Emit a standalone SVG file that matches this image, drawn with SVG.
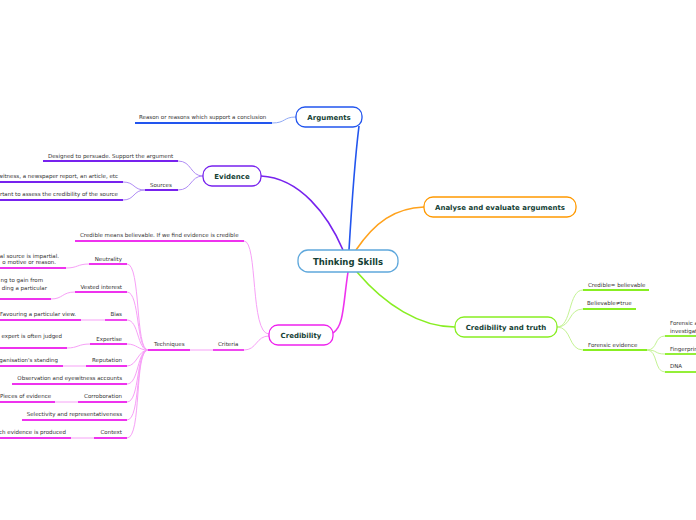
<svg xmlns="http://www.w3.org/2000/svg" width="696" height="520" viewBox="0 0 696 520">
<style>
.bg{fill:#ffffff}
.node{fill:#ffffff;stroke-width:1.3}
.title{font-family:"DejaVu Sans","Liberation Sans",sans-serif;font-weight:bold;fill:#153f35;text-anchor:middle}
.t7{font-size:7px}
.leaf{font-family:"DejaVu Sans","Liberation Sans",sans-serif;font-size:5.5px;fill:#333333}
.end{text-anchor:end}
.c{fill:none;stroke-width:1}
.m{fill:none;stroke-width:1.6}
.ul{fill:none;stroke-width:1.8}
.blue{stroke:#2255ee}.lblue{stroke:#8fa9f5}
.pur{stroke:#7722ee}.lpur{stroke:#b08cf5}
.mag{stroke:#ee33ee}.lmag{stroke:#f7a0f7}
.lime{stroke:#88ee22}.llime{stroke:#c4f394}
.org{stroke:#ffa21c}
</style>
<rect class="bg" x="0" y="0" width="696" height="520"/>
<g id="connectors">
<path class="m blue" d="M349,250 C352,200 356,150 359,126"/>
<path class="m pur" d="M261,176 C300,178 328,215 343,250"/>
<path class="m org" d="M356,250 C375,222 395,208 424,207"/>
<path class="m mag" d="M348,272 C343,305 344,326 333,333"/>
<path class="m lime" d="M357,272 C385,305 420,327 455,327"/>
<path class="c lblue" d="M272,123 C286,123 283,117 296,117"/>
<path class="c lpur" d="M178,161 C192,161 190,176 203,176"/>
<path class="c lpur" d="M178,190 C192,190 190,176 203,176"/>
<path class="c lpur" d="M123,182 C135,182 133,190 145,190"/>
<path class="c lpur" d="M123,200 C135,200 133,190 145,190"/>
<path class="c lmag" d="M244,241 C258,241 250,334 269,334"/>
<path class="c lmag" d="M244,350 C257,350 256,336 269,336"/>
<path class="c lmag" d="M190,350 L213,350"/>
<path class="c lmag" d="M127,264 C141,264 135,350 148,350"/>
<path class="c lmag" d="M127,292 C140,292 136,350 148,350"/>
<path class="c lmag" d="M127,320 C139,320 137,350 148,350"/>
<path class="c lmag" d="M127,344 C137,344 138,350 148,350"/>
<path class="c lmag" d="M127,366 C137,366 138,350 148,350"/>
<path class="c lmag" d="M127,384 C139,384 137,350 148,350"/>
<path class="c lmag" d="M127,402 C140,402 136,350 148,350"/>
<path class="c lmag" d="M127,420 C141,420 135,350 148,350"/>
<path class="c lmag" d="M127,438 C142,438 134,350 148,350"/>
<path class="c lmag" d="M66,268 C78,268 77,264 89,264"/>
<path class="c lmag" d="M51,299 C63,299 62,292 75,292"/>
<path class="c lmag" d="M81,320 L105,320"/>
<path class="c lmag" d="M67,348 C78,348 78,344 90,344"/>
<path class="c lmag" d="M63,366 L86,366"/>
<path class="c lmag" d="M55,402 L78,402"/>
<path class="c lmag" d="M71,438 L94,438"/>
<path class="c llime" d="M557,327 C572,327 568,290 583,290"/>
<path class="c llime" d="M557,327 C572,327 568,309 583,309"/>
<path class="c llime" d="M557,327 C572,327 568,350 583,350"/>
<path class="c llime" d="M647,350 C658,350 654,336 665,336"/>
<path class="c llime" d="M647,350 C658,350 654,354 665,354"/>
<path class="c llime" d="M647,350 C658,350 654,372 665,372"/>
</g>
<g id="underlines">
<path class="ul blue" d="M135,123 H272"/>
<path class="ul pur" d="M43,161 H178"/>
<path class="ul pur" d="M145,190 H178"/>
<path class="ul pur" d="M0,182 H123"/>
<path class="ul pur" d="M0,200 H123"/>
<path class="ul mag" d="M75,241 H244"/>
<path class="ul mag" d="M213,350 H244"/>
<path class="ul mag" d="M148,350 H190"/>
<path class="ul mag" d="M89,264 H127"/>
<path class="ul mag" d="M0,268 H66"/>
<path class="ul mag" d="M75,292 H127"/>
<path class="ul mag" d="M0,299 H51"/>
<path class="ul mag" d="M105,320 H127"/>
<path class="ul mag" d="M0,320 H81"/>
<path class="ul mag" d="M90,344 H127"/>
<path class="ul mag" d="M0,348 H67"/>
<path class="ul mag" d="M86,366 H127"/>
<path class="ul mag" d="M0,366 H63"/>
<path class="ul mag" d="M12,384 H127"/>
<path class="ul mag" d="M78,402 H127"/>
<path class="ul mag" d="M0,402 H55"/>
<path class="ul mag" d="M22,420 H127"/>
<path class="ul mag" d="M94,438 H127"/>
<path class="ul mag" d="M0,438 H71"/>
<path class="ul lime" d="M583,290 H649"/>
<path class="ul lime" d="M583,309 H636"/>
<path class="ul lime" d="M583,350 H647"/>
<path class="ul lime" d="M665,336 H696"/>
<path class="ul lime" d="M665,354 H696"/>
<path class="ul lime" d="M665,372 H696"/>
</g>
<g id="node-center">
<rect class="node" x="298" y="250" width="100" height="22" rx="10" stroke="#5fa8dc"/>
<text class="title" x="348" y="264.5" font-size="8.5px">Thinking Skills</text>
</g>
<g id="node-arguments">
<rect class="node" x="296" y="107" width="66" height="20" rx="9" stroke="#2255ee"/>
<text class="title t7" x="329" y="119.5">Arguments</text>
</g>
<g id="node-evidence">
<rect class="node" x="203" y="166" width="58" height="20" rx="9" stroke="#7722ee"/>
<text class="title t7" x="232" y="178.5">Evidence</text>
</g>
<g id="node-credibility">
<rect class="node" x="269" y="325" width="64" height="20" rx="9" stroke="#ee22ee"/>
<text class="title t7" x="301" y="337.5">Credibility</text>
</g>
<g id="node-analyse">
<rect class="node" x="424" y="197" width="152" height="20" rx="9" stroke="#ff9900"/>
<text class="title t7" x="500" y="209.5">Analyse and evaluate arguments</text>
</g>
<g id="node-truth">
<rect class="node" x="455" y="317" width="102" height="20" rx="9" stroke="#88ee22"/>
<text class="title t7" x="506" y="329.5">Credibility and truth</text>
</g>
<g id="leaves">
<text class="leaf" x="139" y="119">Reason or reasons which support a conclusion</text>
<text class="leaf" x="48" y="158">Designed to persuade. Support the argument</text>
<text class="leaf" x="150" y="187">Sources</text>
<text class="leaf end" x="118" y="178">witness, a newspaper report, an article, etc</text>
<text class="leaf end" x="118" y="196">rtant to assess the credibility of the source</text>
<text class="leaf" x="80" y="237">Credible means believable. If we find evidence is credible</text>
<text class="leaf" x="218" y="346">Criteria</text>
<text class="leaf" x="154" y="346">Techniques</text>
<text class="leaf end" x="122" y="261">Neutrality</text>
<text class="leaf end" x="59" y="258">al source is impartial.</text>
<text class="leaf end" x="56" y="264">o motive or reason.</text>
<text class="leaf end" x="122" y="289">Vested interest</text>
<text class="leaf end" x="43" y="282">ng to gain from</text>
<text class="leaf end" x="47" y="290">ding a particular</text>
<text class="leaf end" x="122" y="316">Bias</text>
<text class="leaf" x="0" y="316">Favouring a particular view.</text>
<text class="leaf end" x="122" y="341">Expertise</text>
<text class="leaf end" x="62" y="338">expert is often judged</text>
<text class="leaf end" x="122" y="362">Reputation</text>
<text class="leaf end" x="58" y="362">ganisation's standing</text>
<text class="leaf end" x="122" y="380">Observation and eyewitness accounts</text>
<text class="leaf end" x="122" y="398">Corroboration</text>
<text class="leaf" x="0" y="398">Pieces of evidence</text>
<text class="leaf end" x="122" y="416">Selectivity and representativeness</text>
<text class="leaf end" x="122" y="434">Context</text>
<text class="leaf end" x="66" y="434">ch evidence is produced</text>
<text class="leaf" x="588" y="287">Credible= believable</text>
<text class="leaf" x="587" y="305">Believable≠true</text>
<text class="leaf" x="588" y="347">Forensic evidence</text>
<text class="leaf" x="670" y="325">Forensic a</text>
<text class="leaf" x="670" y="333">investigat</text>
<text class="leaf" x="670" y="351">Fingerprin</text>
<text class="leaf" x="670" y="368">DNA</text>
</g>
</svg>
